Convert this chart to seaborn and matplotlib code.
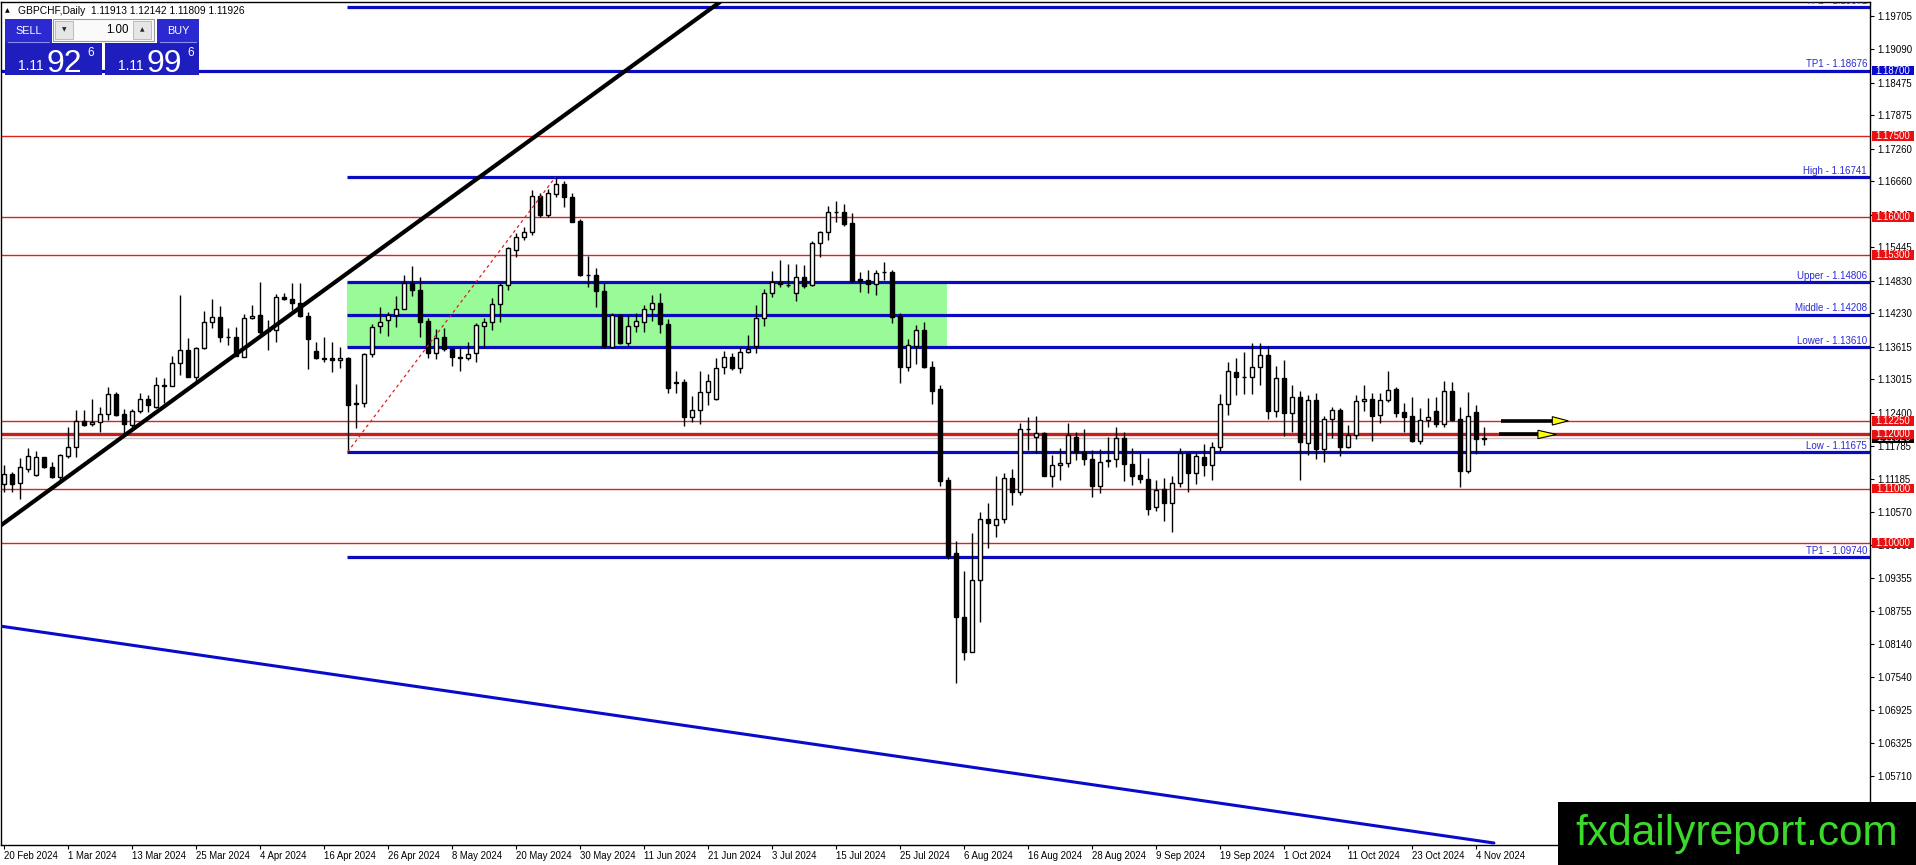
import matplotlib
matplotlib.use("Agg")
import matplotlib.pyplot as plt
from matplotlib.patches import Rectangle, Polygon
import numpy as np
import pandas as pd
import seaborn as sns

# ---------------- data ----------------
OPEN = [1.11081, 1.11265, 1.11100, 1.11370, 1.11247, 1.11578, 1.11394, 1.11210, 1.11609, 1.11775,
        1.12254, 1.12186, 1.12235, 1.12370, 1.12745, 1.12370, 1.12168, 1.12425, 1.12646, 1.12499,
        1.12898, 1.12898, 1.13309, 1.13549, 1.13064, 1.13586, 1.14064, 1.14169, 1.13800, 1.13800,
        1.13432, 1.14138, 1.14199, 1.13900, 1.13923, 1.14525, 1.14488, 1.14414, 1.14181, 1.13543,
        1.13401, 1.13401, 1.13371, 1.13401, 1.12560, 1.12573, 1.13475, 1.13997, 1.14107, 1.14199,
        1.14316, 1.14795, 1.14660, 1.14089, 1.13506, 1.13788, 1.13567, 1.13414, 1.13401, 1.13493,
        1.14003, 1.14076, 1.14396, 1.14746, 1.15396, 1.15629, 1.15722, 1.16391, 1.16041, 1.16421,
        1.16611, 1.16378, 1.15930, 1.14936, 1.14936, 1.14647, 1.13616, 1.14199, 1.13690, 1.13997,
        1.14076, 1.14304, 1.14414, 1.14027, 1.12953, 1.12972, 1.12315, 1.12450, 1.12775, 1.12652,
        1.13236, 1.13432, 1.13217, 1.13524, 1.13628, 1.14138, 1.14598, 1.14813, 1.14755, 1.14598,
        1.14893, 1.14752, 1.15519, 1.15722, 1.16096, 1.16090, 1.15900, 1.14856, 1.14844, 1.14764,
        1.14985, 1.14991, 1.14181, 1.13236, 1.13628, 1.13923, 1.13236, 1.12837, 1.11161, 1.09811,
        1.08643, 1.07999, 1.09319, 1.10443, 1.10332, 1.10437, 1.11192, 1.10946, 1.12094, 1.11947,
        1.12033, 1.11241, 1.11431, 1.11468, 1.11947, 1.11670, 1.11542, 1.11050, 1.11530, 1.11542,
        1.11928, 1.11449, 1.11247, 1.11173, 1.10670, 1.10989, 1.10731, 1.11100, 1.11652, 1.11284,
        1.11578, 1.11431, 1.11762, 1.12560, 1.13143, 1.13064, 1.13051, 1.13236, 1.13463, 1.12438,
        1.13033, 1.12401, 1.12683, 1.11848, 1.12634, 1.11726, 1.12278, 1.12450, 1.11775, 1.11983,
        1.12609, 1.12646, 1.12358, 1.12634, 1.12830, 1.12413, 1.12339, 1.11885, 1.12266, 1.12432,
        1.12186, 1.12800, 1.12278, 1.11333, 1.12413, 1.11913]
HIGH = [1.11437, 1.11315, 1.11560, 1.11744, 1.11701, 1.11591, 1.11486, 1.11634, 1.12143, 1.12450,
        1.12450, 1.12646, 1.12499, 1.12867, 1.12788, 1.12462, 1.12462, 1.12769, 1.12726, 1.13052,
        1.13033, 1.13444, 1.14568, 1.13770, 1.13604, 1.14279, 1.14488, 1.14365, 1.13954, 1.13985,
        1.14218, 1.14384, 1.14813, 1.14107, 1.14586, 1.14611, 1.14782, 1.14795, 1.14261, 1.13708,
        1.13788, 1.13708, 1.13604, 1.13420, 1.12929, 1.13506, 1.14034, 1.14353, 1.14261, 1.14549,
        1.14936, 1.15102, 1.14905, 1.14138, 1.13935, 1.13954, 1.13585, 1.13616, 1.13708, 1.14058,
        1.14138, 1.14506, 1.14795, 1.15445, 1.15715, 1.15826, 1.16501, 1.16440, 1.16513, 1.16741,
        1.16673, 1.16440, 1.15961, 1.15286, 1.15059, 1.14795, 1.14242, 1.14218, 1.14199, 1.14242,
        1.14383, 1.14568, 1.14598, 1.14119, 1.13174, 1.13015, 1.12708, 1.13174, 1.13113, 1.13401,
        1.13542, 1.13493, 1.13616, 1.13831, 1.14383, 1.14672, 1.15016, 1.15212, 1.15138, 1.15138,
        1.15120, 1.15568, 1.15752, 1.16206, 1.16298, 1.16243, 1.16084, 1.14997, 1.15028, 1.15028,
        1.15181, 1.15028, 1.14242, 1.13751, 1.14015, 1.14077, 1.13358, 1.12910, 1.11210, 1.10044,
        1.09491, 1.10190, 1.10578, 1.10731, 1.11235, 1.11296, 1.11357, 1.12204, 1.12327, 1.12340,
        1.12051, 1.11621, 1.11744, 1.12204, 1.12051, 1.12094, 1.11713, 1.11726, 1.11947, 1.12131,
        1.12051, 1.11744, 1.11683, 1.11560, 1.11161, 1.11192, 1.11235, 1.11744, 1.11664, 1.11683,
        1.11824, 1.11867, 1.12738, 1.13328, 1.13401, 1.13512, 1.13677, 1.13677, 1.13628, 1.13260,
        1.13371, 1.12910, 1.12800, 1.12726, 1.12757, 1.12339, 1.12499, 1.12493, 1.12174, 1.12726,
        1.12910, 1.12757, 1.12757, 1.13168, 1.12867, 1.12573, 1.12695, 1.12481, 1.12665, 1.12695,
        1.12990, 1.12972, 1.12511, 1.12787, 1.12542, 1.12142]
LOW = [1.10946, 1.10946, 1.10817, 1.11315, 1.11235, 1.11376, 1.11192, 1.11149, 1.11572, 1.11591,
       1.12155, 1.12155, 1.12051, 1.12266, 1.12340, 1.11990, 1.12131, 1.12401, 1.12419, 1.12487,
       1.12573, 1.12898, 1.13095, 1.13064, 1.12941, 1.13573, 1.13954, 1.13708, 1.13647, 1.13444,
       1.13420, 1.14120, 1.13831, 1.13555, 1.13708, 1.14476, 1.14291, 1.14156, 1.13199, 1.13383,
       1.13340, 1.13156, 1.13230, 1.11675, 1.12112, 1.12511, 1.13420, 1.13874, 1.13819, 1.13972,
       1.14304, 1.14549, 1.13800, 1.13401, 1.13395, 1.13542, 1.13266, 1.13174, 1.13371, 1.13328,
       1.13585, 1.13923, 1.14076, 1.14660, 1.15273, 1.15580, 1.15672, 1.16010, 1.15998, 1.16378,
       1.16182, 1.15906, 1.14917, 1.14721, 1.14353, 1.13585, 1.13585, 1.13665, 1.13628, 1.13892,
       1.13892, 1.14095, 1.13874, 1.12757, 1.12757, 1.12161, 1.12223, 1.12192, 1.12542, 1.12634,
       1.13113, 1.13186, 1.13137, 1.13493, 1.13493, 1.13997, 1.14525, 1.14709, 1.14709, 1.14463,
       1.14690, 1.14733, 1.15273, 1.15580, 1.15918, 1.15844, 1.14813, 1.14629, 1.14598, 1.14568,
       1.14844, 1.14058, 1.12953, 1.13174, 1.13297, 1.13217, 1.12554, 1.11051, 1.09700, 1.07423,
       1.07846, 1.07990, 1.08552, 1.09903, 1.10118, 1.10363, 1.10701, 1.10885, 1.11713, 1.11652,
       1.11235, 1.11038, 1.11161, 1.11406, 1.11529, 1.11437, 1.10854, 1.10928, 1.11406, 1.11394,
       1.11149, 1.11069, 1.11112, 1.10516, 1.10596, 1.10412, 1.10210, 1.11026, 1.10946, 1.11087,
       1.11235, 1.11161, 1.11701, 1.12358, 1.12726, 1.12744, 1.12744, 1.12910, 1.12284, 1.12327,
       1.11971, 1.12051, 1.11161, 1.11621, 1.11542, 1.11499, 1.11928, 1.11603, 1.11744, 1.11910,
       1.12438, 1.11885, 1.12217, 1.12603, 1.12327, 1.12051, 1.11867, 1.11824, 1.12131, 1.12143,
       1.12143, 1.12253, 1.11038, 1.11296, 1.11640, 1.11809]
CLOSE = [1.11272, 1.11093, 1.11394, 1.11603, 1.11578, 1.11394, 1.11210, 1.11615, 1.11775, 1.12254,
         1.12174, 1.12235, 1.12370, 1.12739, 1.12358, 1.12186, 1.12425, 1.12646, 1.12536, 1.12904,
         1.12910, 1.13309, 1.13549, 1.13064, 1.13586, 1.14064, 1.14169, 1.13788, 1.13795, 1.13451,
         1.14138, 1.14181, 1.13892, 1.13917, 1.14525, 1.14488, 1.14414, 1.14181, 1.13751, 1.13401,
         1.13395, 1.13371, 1.13401, 1.12542, 1.12570, 1.13475, 1.13984, 1.14076, 1.14193, 1.14316,
         1.14795, 1.14660, 1.14076, 1.13493, 1.13782, 1.13567, 1.13420, 1.13420, 1.13475, 1.14015,
         1.14076, 1.14396, 1.14746, 1.15427, 1.15642, 1.15722, 1.16391, 1.16041, 1.16440, 1.16611,
         1.16378, 1.15918, 1.14936, 1.14930, 1.14647, 1.13628, 1.14199, 1.13690, 1.13997, 1.14089,
         1.14304, 1.14414, 1.14027, 1.12861, 1.12960, 1.12315, 1.12450, 1.12775, 1.12984, 1.13229,
         1.13432, 1.13217, 1.13524, 1.13567, 1.14138, 1.14598, 1.14813, 1.14764, 1.14750, 1.14893,
         1.14739, 1.15519, 1.15722, 1.16102, 1.16090, 1.15875, 1.14831, 1.14831, 1.14764, 1.14979,
         1.14991, 1.14169, 1.13236, 1.13647, 1.13923, 1.13236, 1.12806, 1.11149, 1.09762, 1.08632,
         1.07999, 1.09319, 1.10443, 1.10363, 1.10437, 1.11192, 1.10946, 1.12094, 1.12100, 1.12033,
         1.11241, 1.11437, 1.11468, 1.11990, 1.11670, 1.11542, 1.11051, 1.11499, 1.11510, 1.11928,
         1.11449, 1.11241, 1.11173, 1.10621, 1.10977, 1.10731, 1.11100, 1.11652, 1.11296, 1.11603,
         1.11431, 1.11762, 1.12560, 1.13174, 1.13064, 1.13058, 1.13236, 1.13463, 1.12438, 1.13033,
         1.12401, 1.12683, 1.11867, 1.12634, 1.11726, 1.12278, 1.12450, 1.11775, 1.11983, 1.12616,
         1.12646, 1.12346, 1.12634, 1.12818, 1.12401, 1.12327, 1.11885, 1.12266, 1.12315, 1.12186,
         1.12800, 1.12266, 1.11333, 1.12339, 1.11910, 1.11926]

DATE_LABELS = ["20 Feb 2024", "1 Mar 2024", "13 Mar 2024", "25 Mar 2024", "4 Apr 2024",
               "16 Apr 2024", "26 Apr 2024", "8 May 2024", "20 May 2024", "30 May 2024",
               "11 Jun 2024", "21 Jun 2024", "3 Jul 2024", "15 Jul 2024", "25 Jul 2024",
               "6 Aug 2024", "16 Aug 2024", "28 Aug 2024", "9 Sep 2024", "19 Sep 2024",
               "1 Oct 2024", "11 Oct 2024", "23 Oct 2024", "4 Nov 2024"]
BARS_PER_LABEL = 8

Y_TICKS = [1.19705, 1.19090, 1.18475, 1.17875, 1.17260, 1.16660, 1.16045, 1.15445, 1.14830,
           1.14230, 1.13615, 1.13015, 1.12400, 1.11785, 1.11185, 1.10570, 1.09960, 1.09355,
           1.08755, 1.08140, 1.07540, 1.06925, 1.06325, 1.05710, 1.05095]

RED_LEVELS = [1.17500, 1.16000, 1.15300, 1.12250, 1.12000, 1.11000, 1.10000]
BLUE_LEVELS = [1.19872, 1.18700, 1.16741, 1.14806, 1.14208, 1.13610, 1.11675, 1.09740]
BLUE_LABELS = ["TP2 - 1.19872", "TP1 - 1.18676", "High - 1.16741", "Upper - 1.14806",
               "Middle - 1.14208", "Lower - 1.13610", "Low - 1.11675", "TP1 - 1.09740"]
BLUE_TAG_LEVELS = [1.18700]
CURRENT_PRICE = 1.11926

ZONE_BARS = [42.94, 117.94]
ZONE_PRICES = [1.13610, 1.14806]
LEVEL_START_BAR = 42.94
TREND_UP_BARS = [-0.44, 89.56]
TREND_UP_PRICES = [1.10314, 1.19963]
TREND_DOWN_BARS = [-0.44, 186.3]
TREND_DOWN_PRICES = [1.08472, 1.04477]
FIB_BARS = [43, 69]
FIB_PRICES = [1.11675, 1.16741]
ARROW_LEVELS = [1.12250, 1.12000]
ARROW_START = [187.2, 186.9]
ARROW_HEAD = [193.6, 191.8]
ARROW_TIP = [195.6, 194.1]

HEADER = "GBPCHF,Daily  1.11913 1.12142 1.11809 1.11926"
LOT = "1.00"
SELL_PRICE = ["1.11", "92", "6"]
BUY_PRICE = ["1.11", "99", "6"]
WATERMARK = "fxdailyreport.com"

# ---------------- styling ----------------
sns.set_style("white")
plt.rcParams['font.family'] = ['Liberation Sans', 'DejaVu Sans']
plt.rcParams['axes.edgecolor'] = 'black'
plt.rcParams['axes.linewidth'] = 1.0

W, H = 1916, 865
PX = 0.00018414            # price per pixel on the reference scale
BLUE = '#0A0ABE'
RED = '#DD2020'
LABEL_BLUE = '#2A2AD2'

df = pd.DataFrame({"o": OPEN, "h": HIGH, "l": LOW, "c": CLOSE})
df["bar"] = np.arange(len(df))

fig = plt.figure(figsize=(W / 100, H / 100), dpi=100)
fig.patch.set_facecolor('white')
ax = fig.add_axes([1 / W, 20 / H, 1869 / W, 843 / H])
ax.set_facecolor('white')

# zone rectangle
ax.add_patch(Rectangle((ZONE_BARS[0], ZONE_PRICES[0]), ZONE_BARS[1] - ZONE_BARS[0],
                       ZONE_PRICES[1] - ZONE_PRICES[0], facecolor='#98FB98',
                       edgecolor='none', zorder=1))

# current price line
ax.axhline(CURRENT_PRICE, color='#C4C4C4', lw=1.0, zorder=1.5)

# red levels
for lvl in RED_LEVELS:
    thick = abs(lvl - 1.12) < 1e-9
    ax.axhline(lvl, color='#C81E1E' if thick else RED, lw=2.4 if thick else 1.0, zorder=2)

# blue levels with labels
for lvl, lab in zip(BLUE_LEVELS, BLUE_LABELS):
    start = -1 if abs(lvl - 1.18700) < 1e-9 else LEVEL_START_BAR
    ax.plot([start, 240], [lvl, lvl], color=BLUE, lw=2.3, zorder=2.2, solid_capstyle='butt')
    ax.text(0.9984, lvl + 1.3 * PX, lab, transform=ax.get_yaxis_transform(),
            ha='right', va='bottom', fontsize=7, color=LABEL_BLUE, zorder=7,
            clip_on=True)

# candles
up = df.c >= df.o
ax.vlines(df.bar, df.l, df.h, color='black', lw=1.0, zorder=3)
ax.bar(df.bar[up], (df.c - df.o)[up], bottom=df.o[up], width=0.5, color='white',
       edgecolor='black', linewidth=1.0, zorder=4)
ax.bar(df.bar[~up], (df.o - df.c)[~up], bottom=df.c[~up], width=0.5, color='black',
       edgecolor='black', linewidth=1.0, zorder=4)

# trend lines
sns.lineplot(x=TREND_UP_BARS, y=TREND_UP_PRICES, ax=ax, color='black', linewidth=3.0,
             sort=False, zorder=6)
sns.lineplot(x=TREND_DOWN_BARS, y=TREND_DOWN_PRICES, ax=ax, color='#0A0ACD', linewidth=2.2,
             sort=False, zorder=6)
ax.plot(FIB_BARS, FIB_PRICES, color=RED, lw=0.9, ls=(0, (2.5, 2.5)), zorder=5)

# arrows
for lvl, s, hd, tp in zip(ARROW_LEVELS, ARROW_START, ARROW_HEAD, ARROW_TIP):
    ax.plot([s, hd], [lvl, lvl], color='black', lw=2.6, zorder=8, solid_capstyle='butt')
    ax.add_patch(Polygon([(hd, lvl + 4.2 * PX), (tp, lvl), (hd, lvl - 4.2 * PX)],
                         closed=True, facecolor='#FFFF00', edgecolor='black', lw=0.8,
                         zorder=8))

# axes limits / ticks
ax.set_xlim(-0.3125, 233.31)
ax.set_ylim(1.04440, 1.19963)
ax.set_xlabel('')
ax.set_ylabel('')
ax.yaxis.tick_right()
ax.set_yticks(Y_TICKS)
ax.set_yticklabels([f"{v:.5f}" for v in Y_TICKS])
ax.tick_params(axis='y', which='both', left=False, right=True, labelleft=False,
               labelright=True, direction='out', length=3, width=0.8, pad=2.5,
               labelsize=6.9, colors='black')
xt = np.arange(len(DATE_LABELS)) * BARS_PER_LABEL
ax.set_xticks(xt)
ax.set_xticklabels(DATE_LABELS)
plt.setp(ax.get_xticklabels(), ha='left')
ax.tick_params(axis='x', direction='out', length=3, width=0.8, pad=1.5, labelsize=6.9,
               colors='black', bottom=True)
for sp in ax.spines.values():
    sp.set_visible(True)
    sp.set_color('black')
    sp.set_linewidth(1.0)
if ax.get_legend():
    ax.get_legend().remove()

# price tags on axis
TAG_H = 9.5 * PX
def tag(level, color, text_color='white', visible_top=None):
    ax.add_patch(Rectangle((1.0011, level - TAG_H / 2), 0.0224, TAG_H,
                           transform=ax.get_yaxis_transform(), clip_on=False,
                           facecolor=color, edgecolor='none', zorder=10))
    t = ax.text(1.0123, level, f"{level:.5f}", transform=ax.get_yaxis_transform(),
                ha='center', va='center', fontsize=6.9, color=text_color, zorder=11,
                clip_on=False)
    if visible_top is not None:
        clip = Rectangle((1.0011, level - TAG_H / 2), 0.0224, visible_top - (level - TAG_H / 2),
                         transform=ax.get_yaxis_transform())
        t.set_clip_on(True)
        t.set_clip_path(clip)

# the black current-price tag is mostly hidden under the 1.12000 tag
tag(CURRENT_PRICE, 'black', visible_top=1.12000 - TAG_H / 2)
for lvl in BLUE_TAG_LEVELS:
    tag(lvl, '#0A0ACD')
for lvl in RED_LEVELS:
    tag(lvl, '#E81010')

# ---------------- overlay (pixel coordinates) ----------------
ov = fig.add_axes([0, 0, 1, 1], zorder=20)
ov.set_xlim(0, W)
ov.set_ylim(H, 0)
ov.axis('off')

ov.text(5, 11, "▲", fontsize=4.5, ha='left', va='center', color='black',
        family=['DejaVu Sans'])
ov.text(18, 11, HEADER, fontsize=7.4, ha='left', va='center', color='black')

PANEL = '#1E1EBE'
def rect(x, y, w, h, **kw):
    ov.add_patch(Rectangle((x, y), w, h, **kw))

rect(5, 19, 47, 24, facecolor='#2A2AD0', edgecolor='none')
rect(157, 19, 42, 24, facecolor='#2A2AD0', edgecolor='none')
ov.text(28.5, 31, "SELL", color='white', fontsize=7.8, ha='center', va='center')
ov.text(178, 31, "BUY", color='white', fontsize=7.8, ha='center', va='center')
ov.plot([8, 49], [42.3, 42.3], color='#8C8CF0', lw=0.8)
ov.plot([160, 196], [42.3, 42.3], color='#8C8CF0', lw=0.8)
rect(53, 19, 101, 22, facecolor='#FAFAFA', edgecolor='#9A9A9A', lw=0.8)
rect(55, 21, 18, 18, facecolor='#E6E6E6', edgecolor='#B4B4B4', lw=0.6)
rect(133, 21, 18, 18, facecolor='#E6E6E6', edgecolor='#B4B4B4', lw=0.6)
ov.text(64, 30, "▼", fontsize=4.2, ha='center', va='center', family=['DejaVu Sans'])
ov.text(142, 30, "▲", fontsize=4.2, ha='center', va='center', family=['DejaVu Sans'])
ov.text(129, 30, LOT, fontsize=8.3, ha='right', va='center', color='black')

rect(5, 43, 97, 32, facecolor=PANEL, edgecolor='none')
rect(105, 43, 94, 32, facecolor=PANEL, edgecolor='none')
for x0, (small, big, sup) in [(5, SELL_PRICE), (105, BUY_PRICE)]:
    ov.text(x0 + 13, 70.5, small, fontsize=10, color='white', ha='left', va='baseline')
    ov.text(x0 + 42, 71.5, big, fontsize=23, color='white', ha='left', va='baseline')
    ov.text(x0 + 82, 56, sup, fontsize=8.5, color='white', ha='left', va='baseline')

rect(1558, 802, 358, 63, facecolor='black', edgecolor='none')
ov.text(1737, 834, WATERMARK, fontsize=30.5, color='#3BDA2A', ha='center', va='center')

fig.savefig("out.png", dpi=100, facecolor='white')
